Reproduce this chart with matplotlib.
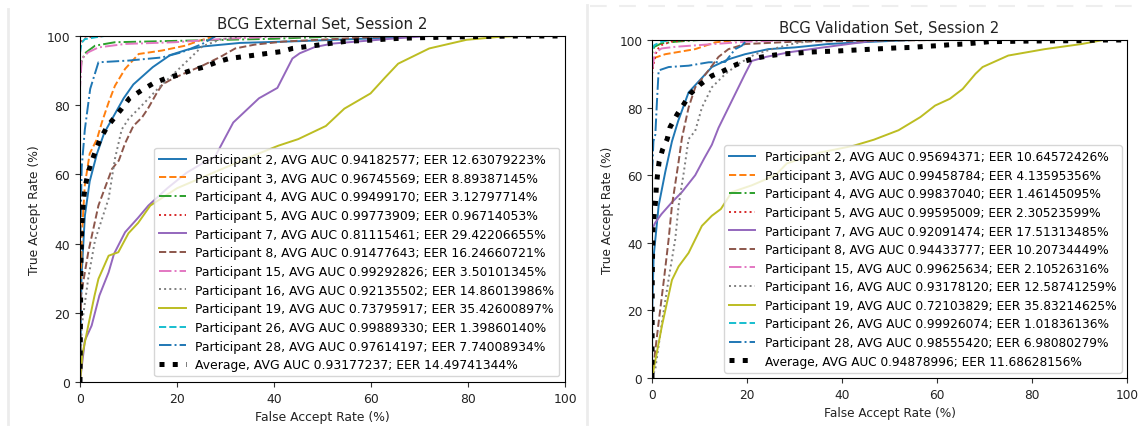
import matplotlib
matplotlib.use("Agg")
import matplotlib.pyplot as plt
from matplotlib.lines import Line2D

# participant ids and the numbers printed in the legends
PARTICIPANTS = ["2", "3", "4", "5", "7", "8", "15", "16", "19", "26", "28"]

EXT_AUC = ["0.94182577", "0.96745569", "0.99499170", "0.99773909", "0.81115461", "0.91477643",
           "0.99292826", "0.92135502", "0.73795917", "0.99889330", "0.97614197"]
EXT_EER = ["12.63079223", "8.89387145", "3.12797714", "0.96714053", "29.42206655", "16.24660721",
           "3.50101345", "14.86013986", "35.42600897", "1.39860140", "7.74008934"]
EXT_AVG_AUC = "0.93177237"
EXT_AVG_EER = "14.49741344"

VAL_AUC = ["0.95694371", "0.99458784", "0.99837040", "0.99595009", "0.92091474", "0.94433777",
           "0.99625634", "0.93178120", "0.72103829", "0.99926074", "0.98555420"]
VAL_EER = ["10.64572426", "4.13595356", "1.46145095", "2.30523599", "17.51313485", "10.20734449",
           "2.10526316", "12.58741259", "35.83214625", "1.01836136", "6.98080279"]
VAL_AVG_AUC = "0.94878996"
VAL_AVG_EER = "11.68628156"

# ROC points (FAR %, TAR %)
EXT_P2 = [(0, 0), (0.3, 30), (1, 48), (2, 58), (3.5, 66), (5, 72), (7, 77), (9, 82), (11, 86),
          (13, 88.5), (15, 91), (18.6, 94.5), (22, 96), (25.5, 97), (33, 98), (45, 98.5),
          (60, 99.3), (70, 100), (100, 100)]
EXT_P3 = [(0, 0), (0.1, 25), (0.4, 43), (1, 57), (2, 66), (3.5, 70.2), (4.5, 75), (5.9, 80.8),
          (7.2, 85.6), (9.3, 90.5), (12.1, 94.8), (16.9, 95.8), (21.7, 97.2), (24.5, 98.6),
          (28, 100), (100, 100)]
EXT_P4 = [(0, 0), (0, 88), (0.3, 92.5), (1, 95), (3.1, 97.2), (7.2, 98.2), (20, 98.6),
          (40, 99.2), (55, 100), (100, 100)]
EXT_P5 = [(0, 0), (0, 97), (0.5, 99), (2, 99.7), (5, 100), (100, 100)]
EXT_P7 = [(0, 0), (1, 12), (2.4, 16.3), (4, 25), (5.9, 31.7), (7, 37), (9.3, 43.3), (12, 47.5),
          (14.1, 51), (18, 56), (22, 60.5), (25, 63), (27.8, 65), (31.6, 75), (36.9, 82),
          (40.7, 85), (43.8, 93.5), (45.3, 95), (48.4, 96.8), (52, 97.8), (58, 98.5),
          (65, 99.3), (72, 100), (100, 100)]
EXT_P8 = [(0, 0), (0.2, 25), (1.7, 37.5), (3.8, 51), (6.6, 61.6), (8, 64), (9.3, 69), (11, 74),
          (12.8, 76.5), (14, 79), (15.9, 83.7), (17, 86), (19, 87.6), (22, 89.5), (25.2, 91.4),
          (29, 94), (32, 96.4), (36, 97.5), (42, 98.4), (55, 99.3), (65, 100), (100, 100)]
EXT_P15 = [(0, 0), (0, 85), (0.35, 93.4), (1.7, 95.3), (3.8, 96.7), (9.3, 97.7), (19.6, 98.2),
           (30, 99.2), (40, 99.8), (50, 100), (100, 100)]
EXT_P16 = [(0, 0), (0.35, 16), (1.7, 30), (3.1, 41), (5.9, 53), (7.2, 64.5), (8.6, 73),
           (10, 76), (12.8, 80), (16.2, 85), (20.4, 90.5), (23, 94), (25.2, 97), (29, 99),
           (34, 100), (100, 100)]
EXT_P19 = [(0, 0), (0.5, 8), (1.7, 16.3), (3, 25), (3.8, 29.8), (5.9, 36.5), (7.9, 37.5),
           (10, 43), (12, 46), (14.5, 51), (20, 56), (25, 59), (30, 62), (35, 65), (40.9, 68.3),
           (45, 70.2), (50.7, 74), (54.5, 79), (59.9, 83.4), (62.9, 88), (65.6, 92), (72, 96.4),
           (79.7, 98.9), (86, 99.7), (90, 100), (100, 100)]
EXT_P26 = [(0, 0), (0, 95), (0.3, 98), (1, 99.1), (3.1, 99.6), (5, 100), (100, 100)]
EXT_P28 = [(0, 0), (0.05, 40), (0.35, 62), (1, 73), (2.1, 84.7), (3.8, 92.4), (10, 92.9),
           (16.9, 93.8), (21, 95.3), (25.2, 97.7), (28, 100), (100, 100)]
EXT_AVG = [(0, 0), (0.1, 20), (0.2, 36), (0.35, 44), (0.5, 48), (0.7, 52), (1, 56), (1.6, 60),
           (2.1, 62.5), (3.1, 66.4), (4.1, 70), (5.6, 73.8), (8.6, 79), (10.2, 82), (12.8, 84.4),
           (15.1, 86.3), (17.8, 87.8), (20.1, 88.7), (23.2, 90.2), (25.5, 91), (28.5, 92.6),
           (30.8, 93.5), (33.5, 94), (36.2, 94.5), (38.8, 95), (41.5, 95.5), (43.8, 96.4),
           (46.5, 96.9), (49.2, 97.4), (51.8, 97.9), (54.5, 98.4), (57, 98.6), (60, 98.8),
           (63, 99.1), (65.6, 99.3), (70, 99.5), (80, 99.8), (90, 100), (100, 100)]

# ROC points (FAR %, TAR %)
VAL_P2 = [(0, 0), (0.05, 20), (0.35, 36), (1.4, 51), (2.8, 61), (4.2, 70), (5.5, 76),
          (7.7, 84.5), (10, 88), (12.6, 92), (16.1, 94.3), (19.6, 95.8), (24.5, 97.3),
          (30, 97.8), (37, 98.8), (45, 99.4), (55, 100), (100, 100)]
VAL_P3 = [(0, 0), (0, 90), (0.3, 94), (0.7, 94.8), (2.8, 95.8), (9.1, 97.3), (13.3, 99.3),
          (18, 100), (100, 100)]
VAL_P4 = [(0, 0), (0, 96), (0.5, 98), (2, 99), (5, 99.5), (10, 100), (100, 100)]
VAL_P5 = [(0, 0), (0, 90), (0.35, 93), (1, 97), (2, 98.5), (4, 99.5), (8, 100), (100, 100)]
VAL_P7 = [(0, 0), (0, 44), (0.7, 46), (2, 48.5), (4.2, 52), (6.3, 55), (9.1, 60), (11, 65),
          (12.6, 69), (14, 74), (15.4, 78), (17.5, 84), (19.6, 90), (21, 93.8), (24, 95),
          (29, 96.4), (36, 97.8), (44, 99.3), (48, 100), (100, 100)]
VAL_P8 = [(0, 0), (1.4, 16.5), (2.5, 29), (3.5, 41), (4.2, 51), (5.6, 64), (6.3, 71),
          (7.7, 80), (9.1, 86), (11.9, 91), (14, 95), (16.1, 97.3), (19.6, 98.8), (30, 99.5),
          (60, 100), (100, 100)]
VAL_P15 = [(0, 0), (0, 90), (0.5, 96), (2, 97.5), (5, 98), (10, 98.5), (15, 99), (20, 99.5),
           (30, 100), (100, 100)]
VAL_P16 = [(0, 0), (0.7, 2.7), (2.1, 16.5), (3.5, 29.3), (4.9, 41.1), (5.6, 51), (6.7, 60.9),
           (7.7, 70.7), (9.1, 73.1), (10.5, 80), (12.6, 86), (15.4, 89.9), (18.2, 92.9),
           (21.7, 95.8), (25.3, 97.3), (30, 99), (35, 100), (100, 100)]
VAL_P19 = [(0, 0), (2.1, 15.5), (4.2, 29), (5.6, 33), (7.7, 37), (9.1, 41), (10.5, 45),
           (12.6, 48), (14.5, 50), (16.8, 55), (21, 57), (26, 60), (28.4, 63.5), (35.4, 66.7),
           (42.4, 68.7), (46.7, 70.5), (51.9, 73.3), (56.5, 77.2), (59.6, 80.6), (62.7, 82.6),
           (65.4, 85.5), (68.1, 90), (69.6, 92), (75, 95.4), (82.7, 97.3), (90.4, 98.8),
           (95, 100), (100, 100)]
VAL_P26 = [(0, 0), (0, 97), (0.5, 98.5), (2, 99.5), (4, 100), (100, 100)]
VAL_P28 = [(0, 0), (0, 60), (0.3, 70), (0.7, 72), (1.05, 82), (1.4, 91), (3.5, 92), (7.7, 92.4),
           (11.9, 93.4), (15.4, 93.5), (17.5, 97.3), (18.9, 98.3), (20, 100), (100, 100)]
VAL_AVG = [(0, 0), (0.05, 30), (0.2, 44), (0.5, 49), (0.8, 53), (0.9, 56.5), (1.15, 60),
           (1.5, 64), (2.2, 67.5), (3.2, 70.7), (3.8, 74.2), (5.3, 78), (6.7, 81), (8, 84),
           (10.2, 86.9), (12.6, 89.4), (15.1, 90.9), (17.2, 92.4), (19.6, 93.8), (22.4, 94.8),
           (25, 95.4), (27.7, 95.9), (30.4, 96.1), (33, 96.4), (35.8, 96.6), (38.5, 96.7),
           (41, 96.9), (43.8, 97.1), (46.5, 97.3), (49.2, 97.5), (52, 97.7), (54.6, 97.8),
           (57.3, 98.1), (60, 98.3), (62.7, 98.6), (65.4, 98.8), (68, 99.1), (71, 99.5),
           (80, 99.7), (90, 99.8), (95, 100), (100, 100)]

EXT_ROCS = [EXT_P2, EXT_P3, EXT_P4, EXT_P5, EXT_P7, EXT_P8, EXT_P15, EXT_P16, EXT_P19,
            EXT_P26, EXT_P28]
VAL_ROCS = [VAL_P2, VAL_P3, VAL_P4, VAL_P5, VAL_P7, VAL_P8, VAL_P15, VAL_P16, VAL_P19,
            VAL_P26, VAL_P28]

LINESTYLES = ["-", "--", "-.", ":"]
COLORS = ["C0", "C1", "C2", "C3", "C4", "C5", "C6", "C7", "C8", "C9", "C0"]


def draw_panel(ax, title, rocs, aucs, eers, avg_roc, avg_auc, avg_eer, fs):
    for i, roc in enumerate(rocs):
        far = [p[0] for p in roc]
        tar = [p[1] for p in roc]
        label = f"Participant {PARTICIPANTS[i]}, AVG AUC {aucs[i]}; EER {eers[i]}%"
        ax.plot(far, tar, color=COLORS[i], linestyle=LINESTYLES[i % 4], lw=1.4, label=label)
    far = [p[0] for p in avg_roc]
    tar = [p[1] for p in avg_roc]
    ax.plot(far, tar, color="black", linestyle=":", lw=3.6,
            label=f"Average, AVG AUC {avg_auc}; EER {avg_eer}%")

    ax.set_xlim(0, 100)
    ax.set_ylim(0, 100)
    ax.set_xticks(range(0, 101, 20))
    ax.set_yticks(range(0, 101, 20))
    ax.tick_params(labelsize=fs, colors="#333333", labelcolor="#222222")
    ax.set_title(title, fontsize=fs * 1.22, color="#222222")
    ax.set_xlabel("False Accept Rate (%)", fontsize=fs, color="#222222")
    ax.set_ylabel("True Accept Rate (%)", fontsize=fs, color="#222222")
    ax.legend(loc="lower right", fontsize=fs, labelspacing=0.46, handlelength=2.15,
              borderaxespad=0.45, framealpha=0.8)


fig = plt.figure(figsize=(11.42, 4.31), dpi=100)
ax1 = fig.add_axes([80 / 1142, 48 / 431, 485 / 1142, 346 / 431])
ax2 = fig.add_axes([652 / 1142, 52 / 431, 475 / 1142, 338 / 431])

draw_panel(ax1, "BCG External Set, Session 2", EXT_ROCS, EXT_AUC, EXT_EER,
           EXT_AVG, EXT_AVG_AUC, EXT_AVG_EER, 8.9)
draw_panel(ax2, "BCG Validation Set, Session 2", VAL_ROCS, VAL_AUC, VAL_EER,
           VAL_AVG, VAL_AVG_AUC, VAL_AVG_EER, 8.75)

# faint page edges from the original screenshots
fig.add_artist(Line2D([8 / 1142, 8 / 1142], [6 / 431, 421 / 431], color="#ececec", lw=2))
fig.add_artist(Line2D([587 / 1142, 587 / 1142], [6 / 431, 425 / 431], color="#ececec", lw=2))
fig.add_artist(Line2D([590 / 1142, 1 - 0.001], [424 / 431, 424 / 431], color="#eeeeee",
                      lw=1.5, linestyle=(0, (8, 6))))

fig.savefig("out.png", dpi=100)
